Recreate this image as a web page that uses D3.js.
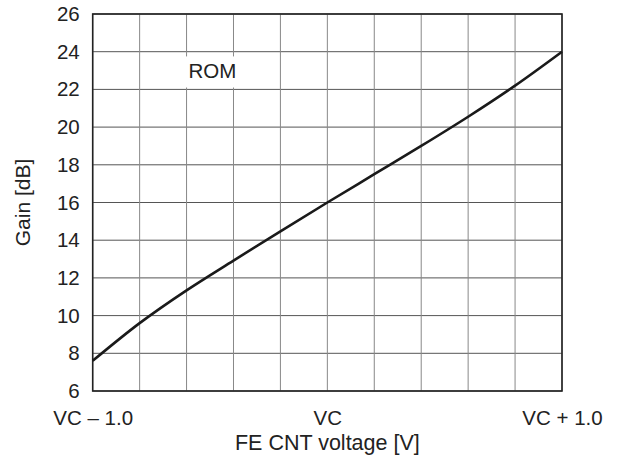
<!DOCTYPE html>
<html>
<head>
<meta charset="utf-8">
<script src="https://cdn.jsdelivr.net/npm/d3@7"></script>
<style>
  html, body { margin: 0; padding: 0; background: #fff; }
  svg { display: block; font-family: "Liberation Sans", Arial, sans-serif; }
</style>
</head>
<body>
<svg id="chart" width="617" height="462"></svg>
<script>
// Data
const voltage = [-1.0, -0.8, -0.6, -0.4, -0.2, 0.0, 0.2, 0.4, 0.6, 0.8, 1.0];
const gain    = [7.6, 9.6, 11.34, 12.92, 14.47, 16.0, 17.5, 19.0, 20.55, 22.2, 24.0];
const yTicks  = [6, 8, 10, 12, 14, 16, 18, 20, 22, 24, 26];
const xGrid   = [-1.0, -0.8, -0.6, -0.4, -0.2, 0.0, 0.2, 0.4, 0.6, 0.8, 1.0];
const xTickValues = [-1.0, 0.0, 1.0];
const xTickLabels = ["VC \u2013 1.0", "VC", "VC + 1.0"];
const curveLabel = "ROM";
const xTitle = "FE CNT voltage [V]";
const yTitle = "Gain [dB]";

const svg = d3.select("#chart");
const mLeft = 92.7, mRight = 562, mTop = 14, mBottom = 391;

const x = d3.scaleLinear().domain([-1, 1]).range([mLeft, mRight]);
const y = d3.scaleLinear().domain([6, 26]).range([mBottom, mTop]);

// grid
svg.append("g").selectAll("line").data(yTicks).join("line")
  .attr("x1", mLeft).attr("x2", mRight)
  .attr("y1", d => y(d)).attr("y2", d => y(d))
  .attr("stroke", "#555").attr("stroke-width", 1);
svg.append("g").selectAll("line").data(xGrid).join("line")
  .attr("x1", d => x(d)).attr("x2", d => x(d))
  .attr("y1", mTop).attr("y2", mBottom)
  .attr("stroke", "#888").attr("stroke-width", 1);

// label box for ROM (white background hides vertical grid)
const labX = x(-0.49), labY = y(22.9);
svg.append("rect")
  .attr("x", labX - 28).attr("y", y(23.75))
  .attr("width", 58).attr("height", y(22.1) - y(23.75))
  .attr("fill", "#fff");
svg.append("text")
  .attr("x", labX).attr("y", labY)
  .attr("text-anchor", "middle").attr("dominant-baseline", "middle")
  .attr("font-size", 20.5).attr("fill", "#222")
  .text(curveLabel);

// frame
svg.append("rect")
  .attr("x", mLeft).attr("y", mTop)
  .attr("width", mRight - mLeft).attr("height", mBottom - mTop)
  .attr("fill", "none").attr("stroke", "#222").attr("stroke-width", 1.6);

// curve
const line = d3.line().x((d, i) => x(voltage[i])).y(d => y(d)).curve(d3.curveCatmullRom.alpha(0.5));
svg.append("path").datum(gain)
  .attr("d", line)
  .attr("fill", "none").attr("stroke", "#1a1a1a").attr("stroke-width", 2.6);

// y axis labels
const yAxis = d3.axisLeft(y).tickValues(yTicks).tickSize(0).tickPadding(13).tickFormat(d3.format("d"));
const gy = svg.append("g").attr("transform", `translate(${mLeft},0)`).call(yAxis);
gy.select(".domain").remove();
gy.selectAll("text").attr("font-size", 20.5).attr("fill", "#222")
  .attr("font-family", "Liberation Sans, Arial, sans-serif");

// x axis labels
const xAxis = d3.axisBottom(x).tickValues(xTickValues).tickSize(0).tickPadding(0)
  .tickFormat((d, i) => xTickLabels[i]);
const gx = svg.append("g").attr("transform", `translate(0,${mBottom})`).call(xAxis);
gx.select(".domain").remove();
gx.selectAll("text").attr("font-size", 20.5).attr("fill", "#222")
  .attr("font-family", "Liberation Sans, Arial, sans-serif")
  .attr("dy", null).attr("y", 34);

// titles
svg.append("text")
  .attr("x", (mLeft + mRight) / 2).attr("y", 450)
  .attr("text-anchor", "middle").attr("font-size", 21.5).attr("fill", "#222")
  .text(xTitle);
svg.append("text")
  .attr("transform", `translate(30,${(mTop + mBottom) / 2}) rotate(-90)`)
  .attr("text-anchor", "middle").attr("font-size", 21).attr("fill", "#222")
  .text(yTitle);
</script>
</body>
</html>
